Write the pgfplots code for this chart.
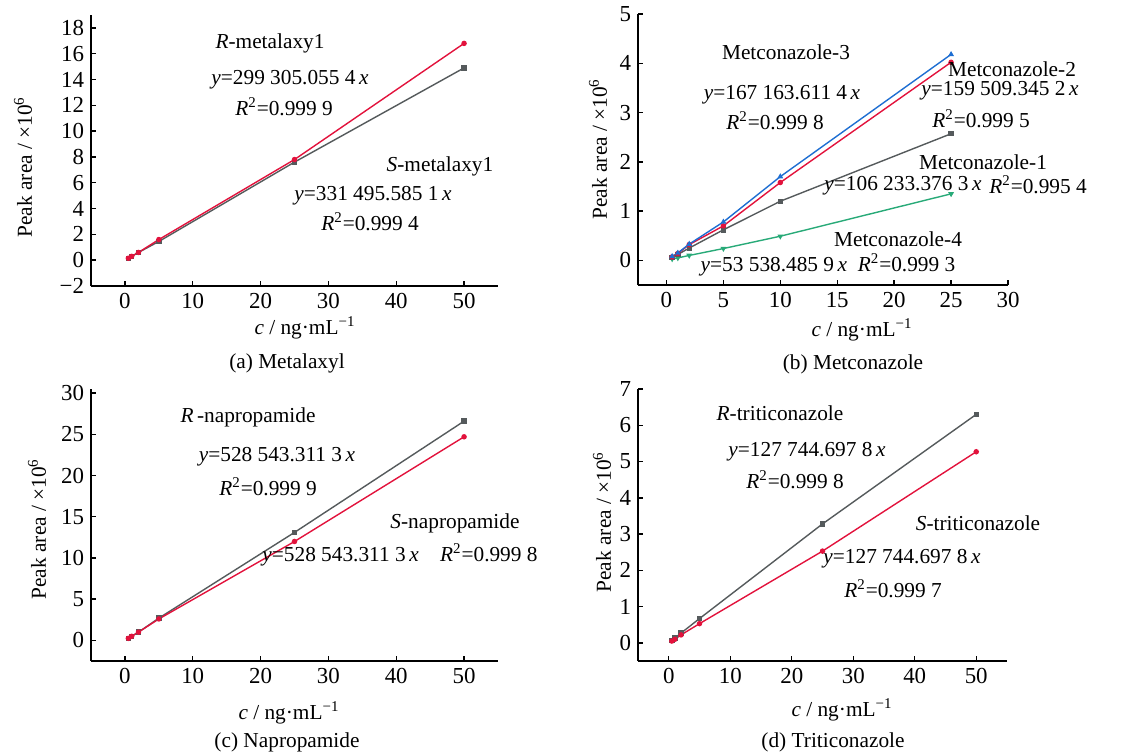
\documentclass[border=0pt]{standalone}
\usepackage{pgfplots}
\pgfplotsset{compat=1.18}
\usepackage{fontspec}
\setmainfont{Liberation Serif}

\definecolor{cred}{RGB}{226,18,60}
\definecolor{cgray}{RGB}{85,90,92}
\definecolor{cblue}{RGB}{30,110,210}
\definecolor{cgreen}{RGB}{40,170,120}

\pgfplotsset{
  panel/.style={
    anchor=south west, scale only axis,
    axis x line*=bottom, axis y line*=left,
    axis line style={line width=0.8bp, black},
    tick align=inside, major tick length=2.5bp,
    tick style={line width=0.7bp, black},
    tick label style={font=\fontsize{11.5}{13}\selectfont},
    /pgf/number format/assume math mode=true,
    clip=false,
  },
  ser/.style={line width=0.7bp, mark size=1bp, #1, mark options={solid, fill=#1}},
}

\begin{document}
\begin{tikzpicture}[font=\fontsize{10.7}{12.5}\selectfont]
\useasboundingbox (0,0) rectangle (568.5bp,-376.5bp);

% (a) Metalaxyl
\begin{axis}[panel, at={(45.5bp,-143bp)}, width=203.5bp, height=135.5bp,
  xmin=-5, xmax=55, ymin=-2, ymax=19,
  xtick={0,10,...,50}, ytick={-2,0,2,...,18},
  yticklabels={−2,0,2,4,6,8,10,12,14,16,18}]
\addplot[ser=cgray, mark=square*] coordinates {(0.5,0.15)(1,0.3)(2,0.6)(5,1.45)(25,7.6)(50,14.9)};
\addplot[ser=cred, mark=*] coordinates {(0.5,0.15)(1,0.3)(2,0.6)(5,1.6)(25,7.8)(50,16.8)};
\end{axis}

% (b) Metconazole
\begin{axis}[panel, at={(319bp,-142.5bp)}, width=185bp, height=135.5bp,
  xmin=-2.5, xmax=30, ymin=-0.5, ymax=5,
  xtick={0,5,...,30}, ytick={0,1,...,5}]
\addplot[ser=cgreen, mark=triangle*, mark options={rotate=180}] coordinates {(0.5,0.03)(1,0.05)(2,0.1)(5,0.24)(10,0.49)(25,1.35)};
\addplot[ser=cgray, mark=square*] coordinates {(0.5,0.06)(1,0.12)(2,0.25)(5,0.62)(10,1.2)(25,2.57)};
\addplot[ser=cred, mark=*] coordinates {(0.5,0.07)(1,0.14)(2,0.32)(5,0.7)(10,1.58)(25,4.02)};
\addplot[ser=cblue, mark=triangle*] coordinates {(0.5,0.08)(1,0.15)(2,0.33)(5,0.78)(10,1.7)(25,4.18)};
\end{axis}

% (c) Napropamide
\begin{axis}[panel, at={(45.5bp,-330.5bp)}, width=203.5bp, height=136bp,
  xmin=-5, xmax=55, ymin=-2.5, ymax=30.5,
  xtick={0,10,...,50}, ytick={0,5,...,30}]
\addplot[ser=cgray, mark=square*] coordinates {(0.5,0.25)(1,0.5)(2,1.0)(5,2.7)(25,13.1)(50,26.6)};
\addplot[ser=cred, mark=*] coordinates {(0.5,0.25)(1,0.5)(2,1.0)(5,2.6)(25,12.0)(50,24.7)};
\end{axis}

% (d) Triticonazole
\begin{axis}[panel, at={(319bp,-330.5bp)}, width=184.5bp, height=136bp,
  xmin=-5, xmax=55, ymin=-0.5, ymax=7,
  xtick={0,10,...,50}, ytick={0,1,...,7}]
\addplot[ser=cgray, mark=square*] coordinates {(0.5,0.06)(1,0.13)(2,0.27)(5,0.67)(25,3.28)(50,6.3)};
\addplot[ser=cred, mark=*] coordinates {(0.5,0.05)(1,0.1)(2,0.22)(5,0.53)(25,2.53)(50,5.27)};
\end{axis}

% axis titles
\node[rotate=90] at (11.5bp,-83.5bp) {Peak area / ×10\textsuperscript{6}};
\node[rotate=90] at (299bp,-74.5bp) {Peak area / ×10\textsuperscript{6}};
\node[rotate=90] at (18.5bp,-264.5bp) {Peak area / ×10\textsuperscript{6}};
\node[rotate=90] at (301bp,-261bp) {Peak area / ×10\textsuperscript{6}};
\node at (152.5bp,-164bp) {\textit{c} / ng·mL\textsuperscript{−1}};
\node at (431bp,-165bp) {\textit{c} / ng·mL\textsuperscript{−1}};
\node at (144.5bp,-356.5bp) {\textit{c} / ng·mL\textsuperscript{−1}};
\node at (421bp,-355bp) {\textit{c} / ng·mL\textsuperscript{−1}};

% captions
\node at (143.5bp,-181.5bp) {(a) Metalaxyl};
\node at (426.5bp,-182bp) {(b) Metconazole};
\node at (143.5bp,-371bp) {(c) Napropamide};
\node at (416.5bp,-371bp) {(d) Triticonazole};

% annotations (a)
\node at (135bp,-21.5bp) {\textit{R}-metalaxy1};
\node at (145bp,-40bp) {\textit{y}=299 305.055 4\,\textit{x}};
\node at (142bp,-53.5bp) {\textit{R}\textsuperscript{2}=0.999 9};
\node at (220bp,-83bp) {\textit{S}-metalaxy1};
\node at (186.5bp,-98bp) {\textit{y}=331 495.585 1\,\textit{x}};
\node at (185bp,-111bp) {\textit{R}\textsuperscript{2}=0.999 4};

% annotations (b)
\node at (393bp,-26bp) {Metconazole-3};
\node at (391bp,-47.5bp) {\textit{y}=167 163.611 4\,\textit{x}};
\node at (387.5bp,-60.5bp) {\textit{R}\textsuperscript{2}=0.999 8};
\node at (506bp,-34.5bp) {Metconazole-2};
\node at (500bp,-45.5bp) {\textit{y}=159 509.345 2\,\textit{x}};
\node at (490.5bp,-59.5bp) {\textit{R}\textsuperscript{2}=0.999 5};
\node at (491.5bp,-81bp) {Metconazole-1};
\node at (451.5bp,-93bp) {\textit{y}=106 233.376 3\,\textit{x}};
\node at (519bp,-92.5bp) {\textit{R}\textsuperscript{2}=0.995 4};
\node at (449bp,-119.5bp) {Metconazole-4};
\node at (414bp,-132.5bp) {\textit{y}=53 538.485 9\,\textit{x}\enspace\textit{R}\textsuperscript{2}=0.999 3};

% annotations (c)
\node at (124bp,-208.5bp) {\textit{R}\,-napropamide};
\node at (138.5bp,-228.5bp) {\textit{y}=528 543.311 3\,\textit{x}};
\node at (134bp,-243.5bp) {\textit{R}\textsuperscript{2}=0.999 9};
\node at (227.5bp,-261.5bp) {\textit{S}-napropamide};
\node at (200bp,-277.5bp) {\textit{y}=528 543.311 3\,\textit{x}\quad\textit{R}\textsuperscript{2}=0.999 8};

% annotations (d)
\node at (390bp,-206.5bp) {\textit{R}-triticonazole};
\node at (403.5bp,-226bp) {\textit{y}=127 744.697 8\,\textit{x}};
\node at (397.5bp,-240bp) {\textit{R}\textsuperscript{2}=0.999 8};
\node at (489bp,-261.5bp) {\textit{S}-triticonazole};
\node at (451bp,-279.5bp) {\textit{y}=127 744.697 8\,\textit{x}};
\node at (446.5bp,-294.5bp) {\textit{R}\textsuperscript{2}=0.999 7};
\end{tikzpicture}
\end{document}
